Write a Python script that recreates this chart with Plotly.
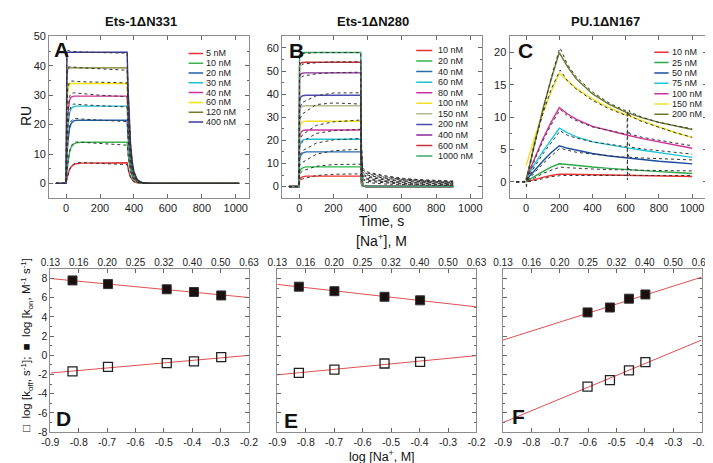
import plotly.graph_objects as go

FONT = "Liberation Sans, Arial, sans-serif"

# ---------------- Panel A : Ets-1dN331 ----------------
A_labels = ["5 nM", "10 nM", "20 nM", "30 nM", "40 nM", "60 nM", "120 nM", "400 nM"]
A_colors = ["#e8303a", "#3cb44b", "#1f5fa8", "#1fc1d0", "#d0309a", "#f2e600", "#7a7a1f", "#3a3a9a"]
A_fit_t = [-60, 0, 5, 10, 20, 30, 45, 60, 90, 360, 365, 370, 380, 390, 400, 420, 450, 500, 1020]
A_fit = [
    [0, 0, 1.7, 2.9, 4.7, 5.7, 6.4, 6.7, 6.9, 7.0, 5.2, 3.9, 2.1, 1.2, 0.6, 0.2, 0.03, 0, 0],
    [0, 0, 4.2, 7.0, 10.5, 12.3, 13.4, 13.8, 14.0, 14.0, 10.4, 7.7, 4.2, 2.3, 1.3, 0.4, 0.06, 0, 0],
    [0, 0, 8.4, 13.6, 18.6, 20.4, 21.3, 21.5, 21.5, 21.5, 15.9, 11.8, 6.5, 3.5, 1.9, 0.6, 0.1, 0, 0],
    [0, 0, 11.8, 18.4, 23.9, 25.5, 26.1, 26.3, 26.3, 26.3, 19.5, 14.5, 7.9, 4.3, 2.4, 0.7, 0.1, 0, 0],
    [0, 0, 15.7, 23.2, 28.2, 29.4, 29.7, 29.7, 29.7, 29.7, 22.0, 16.3, 8.9, 4.9, 2.7, 0.8, 0.13, 0, 0],
    [0, 0, 24.1, 31.3, 33.7, 34.0, 34.0, 34.0, 34.0, 34.0, 25.2, 18.7, 10.2, 5.6, 3.1, 0.9, 0.15, 0, 0],
    [0, 0, 36.2, 38.9, 39.3, 39.3, 39.3, 39.3, 39.3, 39.3, 29.1, 21.6, 11.8, 6.5, 3.5, 1.1, 0.18, 0, 0],
    [0, 0, 44.6, 44.6, 44.6, 44.6, 44.6, 44.6, 44.6, 44.6, 33.0, 24.5, 13.4, 7.4, 4.0, 1.2, 0.2, 0, 0],
]
A_dat_t = [-60, 0, 5, 10, 20, 30, 45, 60, 90, 200, 360, 365, 370, 380, 390, 400, 420, 450, 500, 1020]
A_dat = [
    [0, 0, 1.5, 2.7, 4.6, 5.7, 6.6, 7.0, 7.1, 6.8, 6.4, 4.9, 3.7, 2.0, 1.1, 0.6, 0.2, 0.05, 0, 0],
    [0, 0, 4.0, 7.0, 10.8, 12.8, 13.8, 14.1, 14.0, 13.6, 13.0, 9.8, 7.4, 4.1, 2.3, 1.3, 0.4, 0.1, 0, 0],
    [0, 0, 8.0, 13.8, 19.2, 21.2, 22.0, 22.1, 21.9, 21.5, 21.0, 15.6, 11.6, 6.4, 3.5, 1.9, 0.6, 0.1, 0, 0],
    [0, 0, 11.5, 18.8, 24.6, 26.4, 27.0, 27.0, 26.8, 26.4, 26.0, 19.3, 14.3, 7.8, 4.3, 2.4, 0.7, 0.1, 0, 0],
    [0, 0, 15.5, 23.8, 29.5, 30.6, 30.8, 30.7, 30.5, 30.0, 29.5, 21.9, 16.2, 8.9, 4.9, 2.7, 0.8, 0.1, 0, 0],
    [0, 0, 24.5, 32.5, 34.5, 34.8, 34.8, 34.7, 34.6, 34.4, 34.2, 25.3, 18.8, 10.3, 5.6, 3.1, 0.9, 0.15, 0, 0],
    [0, 0, 36.5, 39.4, 39.7, 39.7, 39.6, 39.5, 39.3, 39.0, 38.5, 28.5, 21.2, 11.6, 6.4, 3.5, 1.1, 0.2, 0, 0],
    [0, 0, 45.3, 45.2, 45.0, 44.9, 44.9, 44.8, 44.7, 44.5, 44.3, 32.8, 24.3, 13.3, 7.3, 4.0, 1.2, 0.2, 0, 0],
]

# ---------------- Panel B : Ets-1dN280 ----------------
B_labels = ["10 nM", "20 nM", "40 nM", "60 nM", "80 nM", "100 nM", "150 nM", "200 nM", "400 nM", "600 nM", "1000 nM"]
B_colors = ["#e83030", "#2eb84a", "#2a6bb0", "#20c0d0", "#d030a0", "#f0e020", "#b8b890", "#4a4ab0", "#8a2a9a", "#c83040", "#3aaa6a"]
B_fit_t = [-60, 0, 2, 10, 20, 40, 360, 362, 368, 375, 390, 900]
B_fit = [
    [0, 0, 2.8, 3.8, 4.2, 4.5, 4.5, 1.4, 0.2, 0.05, 0, 0],
    [0, 0, 6.0, 7.5, 8.1, 8.5, 8.5, 2.6, 0.4, 0.1, 0, 0],
    [0, 0, 11.5, 13.5, 14.5, 15.0, 15.0, 4.5, 0.7, 0.15, 0, 0],
    [0, 0, 17.0, 19.3, 20.1, 20.5, 20.5, 6.2, 0.9, 0.2, 0, 0],
    [0, 0, 21.0, 23.5, 24.2, 24.5, 24.5, 7.4, 1.1, 0.25, 0, 0],
    [0, 0, 25.0, 27.3, 28.0, 28.3, 28.3, 8.5, 1.3, 0.3, 0, 0],
    [0, 0, 32.5, 34.3, 34.8, 35.0, 35.0, 10.5, 1.6, 0.35, 0, 0],
    [0, 0, 37.0, 38.8, 39.3, 39.5, 39.5, 11.9, 1.8, 0.4, 0, 0],
    [0, 0, 47.5, 48.8, 49.1, 49.2, 49.2, 14.8, 2.2, 0.5, 0, 0],
    [0, 0, 52.5, 53.5, 53.7, 53.8, 53.8, 16.1, 2.4, 0.5, 0, 0],
    [0, 0, 57.2, 57.8, 58.0, 58.0, 58.0, 17.4, 2.6, 0.6, 0, 0],
]
B_dat_t = [-60, 0, 2, 20, 100, 200, 360, 362, 370, 380, 400, 500, 600, 700, 800, 900]
B_dat = [
    [0, 0, 2.5, 3.3, 4.8, 5.3, 5.5, 3.0, 2.2, 2.0, 1.7, 1.1, 0.8, 0.6, 0.5, 0.4],
    [0, 0, 5.5, 6.8, 8.8, 9.5, 9.7, 4.6, 3.0, 2.6, 2.2, 1.5, 1.1, 0.9, 0.7, 0.6],
    [0, 0, 9.0, 10.5, 14.0, 15.5, 16.2, 6.9, 3.6, 3.1, 2.7, 1.9, 1.4, 1.1, 0.9, 0.8],
    [0, 0, 13.5, 15.5, 18.8, 20.2, 20.8, 8.7, 4.2, 3.6, 3.1, 2.2, 1.7, 1.4, 1.2, 1.0],
    [0, 0, 17.0, 19.5, 23.0, 24.2, 24.8, 10.3, 4.7, 4.1, 3.5, 2.5, 1.9, 1.6, 1.4, 1.2],
    [0, 0, 20.0, 22.5, 26.5, 28.0, 28.8, 11.8, 5.2, 4.6, 4.0, 2.9, 2.2, 1.8, 1.6, 1.4],
    [0, 0, 29.0, 31.5, 35.5, 36.2, 35.7, 14.3, 5.8, 5.1, 4.4, 3.2, 2.5, 2.1, 1.8, 1.6],
    [0, 0, 34.0, 36.5, 39.3, 40.5, 40.6, 16.2, 6.3, 5.6, 4.9, 3.6, 2.8, 2.3, 2.0, 1.8],
    [0, 0, 46.0, 47.8, 48.8, 49.3, 49.5, 19.8, 7.0, 6.2, 5.4, 4.0, 3.1, 2.6, 2.2, 2.0],
    [0, 0, 51.5, 53.0, 53.6, 54.0, 54.0, 21.5, 7.5, 6.7, 5.8, 4.3, 3.3, 2.8, 2.4, 2.2],
    [0, 0, 56.5, 57.6, 58.0, 58.1, 58.0, 23.5, 8.1, 7.3, 6.3, 4.7, 3.6, 3.0, 2.6, 2.4],
]

# ---------------- Panel C : PU.1dN167 ----------------
C_labels = ["10 nM", "25 nM", "50 nM", "75 nM", "100 nM", "150 nM", "200 nM"]
C_colors = ["#e83030", "#2ea84a", "#1a4fa0", "#20c8d8", "#d0309a", "#f0e020", "#6b7a2a"]
C_fit_t = [0, 50, 100, 150, 200, 250, 300, 400, 500, 600, 700, 800, 900, 1000]
C_fit = [
    [0, 0.4, 0.7, 1.0, 1.2, 1.18, 1.15, 1.1, 1.05, 1.0, 0.95, 0.92, 0.88, 0.85],
    [0.1, 0.9, 1.6, 2.3, 2.8, 2.7, 2.55, 2.3, 2.1, 1.9, 1.75, 1.6, 1.45, 1.3],
    [0.3, 1.8, 3.2, 4.5, 5.6, 5.2, 4.9, 4.4, 4.0, 3.7, 3.4, 3.2, 3.0, 2.8],
    [0.4, 2.7, 4.7, 6.6, 8.3, 7.6, 7.0, 6.2, 5.7, 5.3, 4.9, 4.5, 4.1, 3.8],
    [0.5, 3.7, 6.6, 9.2, 11.5, 10.5, 9.7, 8.6, 7.9, 7.3, 6.7, 6.2, 5.7, 5.2],
    [2.5, 6.8, 10.6, 13.9, 16.8, 15.6, 14.5, 12.8, 11.5, 10.4, 9.4, 8.5, 7.6, 6.9],
    [0.3, 6.0, 11.2, 15.8, 20.0, 17.8, 16.0, 13.6, 12.0, 10.8, 9.9, 9.2, 8.6, 8.1],
]
C_dat_t = [-60, -10, 0, 2, 5, 50, 100, 150, 200, 205, 250, 300, 400, 500, 600, 608, 610, 612, 620, 625, 700, 800, 900, 1000]
C_dat = [
    [0, 0, 0, 0, 0, 0.2, 0.5, 0.8, 0.95, 1.0, 1.0, 1.0, 1.0, 1.0, 1.0, 1.0, 1.0, 1.0, 1.3, 1.0, 1.0, 1.0, 1.0, 1.0],
    [0, 0, 0, 0, 0, 0.6, 1.3, 1.8, 2.3, 2.3, 2.2, 2.1, 2.0, 1.9, 1.85, 1.85, 1.85, 1.85, 2.3, 1.85, 1.8, 1.75, 1.7, 1.7],
    [0, 0, 0, 0, 0.1, 1.4, 2.8, 4.0, 5.1, 5.2, 4.9, 4.6, 4.3, 4.0, 3.8, 3.8, 3.8, 3.8, 4.3, 3.8, 3.7, 3.6, 3.5, 3.4],
    [0, 0, 0, 0.1, 0.2, 2.3, 4.3, 6.1, 7.8, 7.9, 7.2, 6.8, 6.2, 5.8, 5.4, 5.4, 5.4, 5.4, 5.9, 5.4, 5.1, 4.8, 4.5, 4.3],
    [0, 0, 0, 0.1, 0.3, 3.3, 6.3, 8.8, 11.0, 11.2, 10.2, 9.5, 8.5, 7.9, 7.4, 7.4, 7.4, 7.4, 7.9, 7.4, 6.9, 6.4, 6.0, 5.6],
    [0, 0, 0, 0.2, 0.8, 6.0, 10.5, 14.3, 17.2, 17.3, 15.6, 14.4, 12.6, 11.3, 10.3, 10.2, 10.2, 10.2, 10.7, 10.2, 9.3, 8.4, 7.6, 6.9],
    [0, 0, 0, -1.0, 0.3, 5.6, 11.0, 16.0, 20.5, 20.7, 18.1, 16.3, 13.9, 12.2, 11.0, 10.9, 0.3, 10.9, 11.2, 10.8, 10.0, 9.2, 8.7, 8.2],
]

# ---------------- Panels D-F : salt dependence ----------------
D_logNa = [-0.822, -0.697, -0.49, -0.394, -0.298]
D_kon = [7.8, 7.42, 6.88, 6.6, 6.24]
D_koff = [-1.67, -1.2, -0.8, -0.63, -0.19]
E_logNa = [-0.824, -0.699, -0.523, -0.398]
E_kon = [7.15, 6.68, 6.1, 5.73]
E_koff = [-1.83, -1.49, -0.85, -0.68]
F_logNa = [-0.602, -0.523, -0.456, -0.398]
F_kon = [4.47, 4.98, 5.9, 6.34]
F_koff = [-3.25, -2.58, -1.56, -0.71]
line_x = [-0.9, -0.2]
D_kon_fit = [8.0, 6.02]
D_koff_fit = [-1.84, 0.0]
E_kon_fit = [7.39, 5.05]
E_koff_fit = [-2.03, -0.03]
F_kon_fit = [1.59, 8.14]
F_koff_fit = [-7.0, 1.59]
bottom_tickvals = [-0.9, -0.8, -0.7, -0.6, -0.5, -0.4, -0.3, -0.2]
bottom_ticktext = ["-0.9", "-0.8", "-0.7", "-0.6", "-0.5", "-0.4", "-0.3", "-0.2"]
top_ticktext = ["0.13", "0.16", "0.20", "0.25", "0.32", "0.40", "0.50", "0.63"]
y_tickvals = [-8, -6, -4, -2, 0, 2, 4, 6, 8]
y_ticktext = ["-8", "-6", "-4", "-2", "0", "2", "4", "6", "8"]

fig = go.Figure()


def add_sensor(xa, ya, fit_t, fits, dat_t, dats, colors):
    for vals, c in zip(fits, colors):
        fig.add_trace(go.Scatter(x=fit_t, y=vals, mode="lines", xaxis=xa, yaxis=ya,
                                 line=dict(color=c, width=1.4), showlegend=False, hoverinfo="skip"))
    for vals in dats:
        fig.add_trace(go.Scatter(x=dat_t, y=vals, mode="lines", xaxis=xa, yaxis=ya,
                                 line=dict(color="#333333", width=1, dash="dot"), showlegend=False,
                                 hoverinfo="skip"))


add_sensor("x", "y", A_fit_t, A_fit, A_dat_t, A_dat, A_colors)
add_sensor("x2", "y2", B_fit_t, B_fit, B_dat_t, B_dat, B_colors)
add_sensor("x3", "y3", C_fit_t, C_fit, C_dat_t, C_dat, C_colors)


def add_salt(xa, ya, xs, kon, koff, kon_fit, koff_fit):
    fig.add_trace(go.Scatter(x=line_x, y=kon_fit, mode="lines", xaxis=xa, yaxis=ya,
                             line=dict(color="#e05050", width=1), showlegend=False))
    fig.add_trace(go.Scatter(x=line_x, y=koff_fit, mode="lines", xaxis=xa, yaxis=ya,
                             line=dict(color="#e05050", width=1), showlegend=False))
    fig.add_trace(go.Scatter(x=xs, y=kon, mode="markers", xaxis=xa, yaxis=ya,
                             marker=dict(symbol="square", size=9, color="#1a1010",
                                         line=dict(color="#333", width=1)), showlegend=False))
    fig.add_trace(go.Scatter(x=xs, y=koff, mode="markers", xaxis=xa, yaxis=ya,
                             marker=dict(symbol="square-open", size=9, color="#222",
                                         line=dict(width=1.3)), showlegend=False))


add_salt("x4", "y4", D_logNa, D_kon, D_koff, D_kon_fit, D_koff_fit)
add_salt("x5", "y5", E_logNa, E_kon, E_koff, E_kon_fit, E_koff_fit)
add_salt("x6", "y6", F_logNa, F_kon, F_koff, F_kon_fit, F_koff_fit)
# invisible traces to activate top axes
for xa, ya in (("x7", "y4"), ("x8", "y5"), ("x9", "y6")):
    fig.add_trace(go.Scatter(x=[-0.5], y=[0], mode="markers", xaxis=xa, yaxis=ya,
                             marker=dict(opacity=0), showlegend=False, hoverinfo="skip"))

W, H = 713, 463


def px(xp):
    return xp / W


def py(yp):
    return 1 - yp / H


base = dict(showline=True, linecolor="#8c8c8c", linewidth=1, mirror="ticks", ticks="inside",
            ticklen=4, tickcolor="#666", showgrid=False, zeroline=False,
            tickfont=dict(size=11, color="#222", family=FONT))
small_font = dict(size=10.5, color="#222", family=FONT)

top_dom = [py(189), py(23)]
bot_dom = [py(429.3), py(261.7)]

layout = dict(
    width=W, height=H, margin=dict(l=0, r=0, t=0, b=0),
    paper_bgcolor="white", plot_bgcolor="white", showlegend=False,
    font=dict(family=FONT, color="#222"),
    xaxis=dict(base, domain=[px(32), px(238)], range=[-100, 1080], dtick=200, anchor="y"),
    yaxis=dict(base, domain=top_dom, range=[-5, 50], dtick=10, anchor="x",
               minor=dict(dtick=5, ticklen=2, ticks="inside", tickcolor="#666")),
    xaxis2=dict(base, domain=[px(271.7), px(477.7)], range=[-100, 1070], dtick=200, anchor="y2"),
    yaxis2=dict(base, domain=top_dom, range=[-5, 65], dtick=10, anchor="x2",
                minor=dict(dtick=5, ticklen=2, ticks="inside", tickcolor="#666")),
    xaxis3=dict(base, domain=[px(505.7), px(709)], range=[-100, 1090], dtick=200, anchor="y3"),
    yaxis3=dict(base, domain=top_dom, range=[-2.5, 22.5], dtick=5, anchor="x3",
                minor=dict(dtick=2.5, ticklen=2, ticks="inside", tickcolor="#666")),
)
for i, dom in ((4, [px(33.3), px(237.7)]), (5, [px(266.7), px(471.7)]), (6, [px(499), px(703.3)])):
    layout["xaxis%d" % i] = dict(base, domain=dom, range=[-0.9, -0.2], tickvals=bottom_tickvals,
                                 ticktext=bottom_ticktext, tickfont=small_font,
                                 anchor="y%d" % i, mirror=True)
    layout["yaxis%d" % i] = dict(base, domain=bot_dom, range=[-8, 9], tickvals=y_tickvals,
                                 ticktext=y_ticktext, tickfont=small_font,
                                 anchor="x%d" % i, showticklabels=(i == 4),
                                 minor=dict(dtick=1, ticklen=2, ticks="inside", tickcolor="#666"))
    layout["xaxis%d" % (i + 3)] = dict(base, overlaying="x%d" % i, anchor="y%d" % i, side="top",
                                       range=[-0.9, -0.2], tickvals=bottom_tickvals,
                                       ticktext=top_ticktext, showline=False, mirror=False,
                                       tickfont=dict(size=10, color="#222", family=FONT),
                                       domain=dom)
fig.update_layout(**layout)

ann = []
shapes = []


def text(xp, yp, s, size, bold=False, angle=0, xanchor="center"):
    ann.append(dict(x=px(xp), y=py(yp), xref="paper", yref="paper", text=("<b>%s</b>" % s) if bold else s,
                    showarrow=False, textangle=angle, xanchor=xanchor, yanchor="middle",
                    font=dict(size=size, family=FONT, color="#111")))


text(127, 8, "Ets-1ΔN331", 13, bold=True)
text(365, 8, "Ets-1ΔN280", 13, bold=True)
text(604, 8, "PU.1ΔN167", 13, bold=True)
text(9, 105, "RU", 14, angle=-90)
text(374, 213, "Time, s", 14)
text(374, 232, "[Na<sup>+</sup>], M", 14)
text(374, 453.5, "log [Na<sup>+</sup>, M]", 12.5)
text(9, 340, "□  log [k<sub>off</sub>, s<sup>-1</sup>];  ■  log [k<sub>on</sub>, M<sup>-1</sup> s<sup>-1</sup>]",
     11.5, angle=-90)
for lx, ly, letter in ((35, 36, "A"), (277, 37, "B"), (512, 37, "C"),
                       (37, 415, "D"), (272, 417, "E"), (506, 413, "F")):
    text(lx, ly, letter, 21, bold=True, xanchor="left")


def legend(xa, ya, labels, colors, x0, x1, xt, y0, dy):
    for k, (lab, c) in enumerate(zip(labels, colors)):
        yy = y0 - k * dy
        shapes.append(dict(type="line", xref=xa, yref=ya, x0=x0, x1=x1, y0=yy, y1=yy,
                           line=dict(color=c, width=1.5)))
        ann.append(dict(x=xt, y=yy, xref=xa, yref=ya, text=lab, showarrow=False, xanchor="left",
                        yanchor="middle", font=dict(size=9, family=FONT, color="#222")))


legend("x", "y", A_labels, A_colors, 722, 808, 815, 44.2, 3.33)
legend("x2", "y2", B_labels, B_colors, 684, 778, 800, 58.9, 4.57)
legend("x3", "y3", C_labels, C_colors, 772, 858, 866, 20.05, 1.6)

fig.update_layout(annotations=ann, shapes=shapes)
fig.write_html("out.html")
